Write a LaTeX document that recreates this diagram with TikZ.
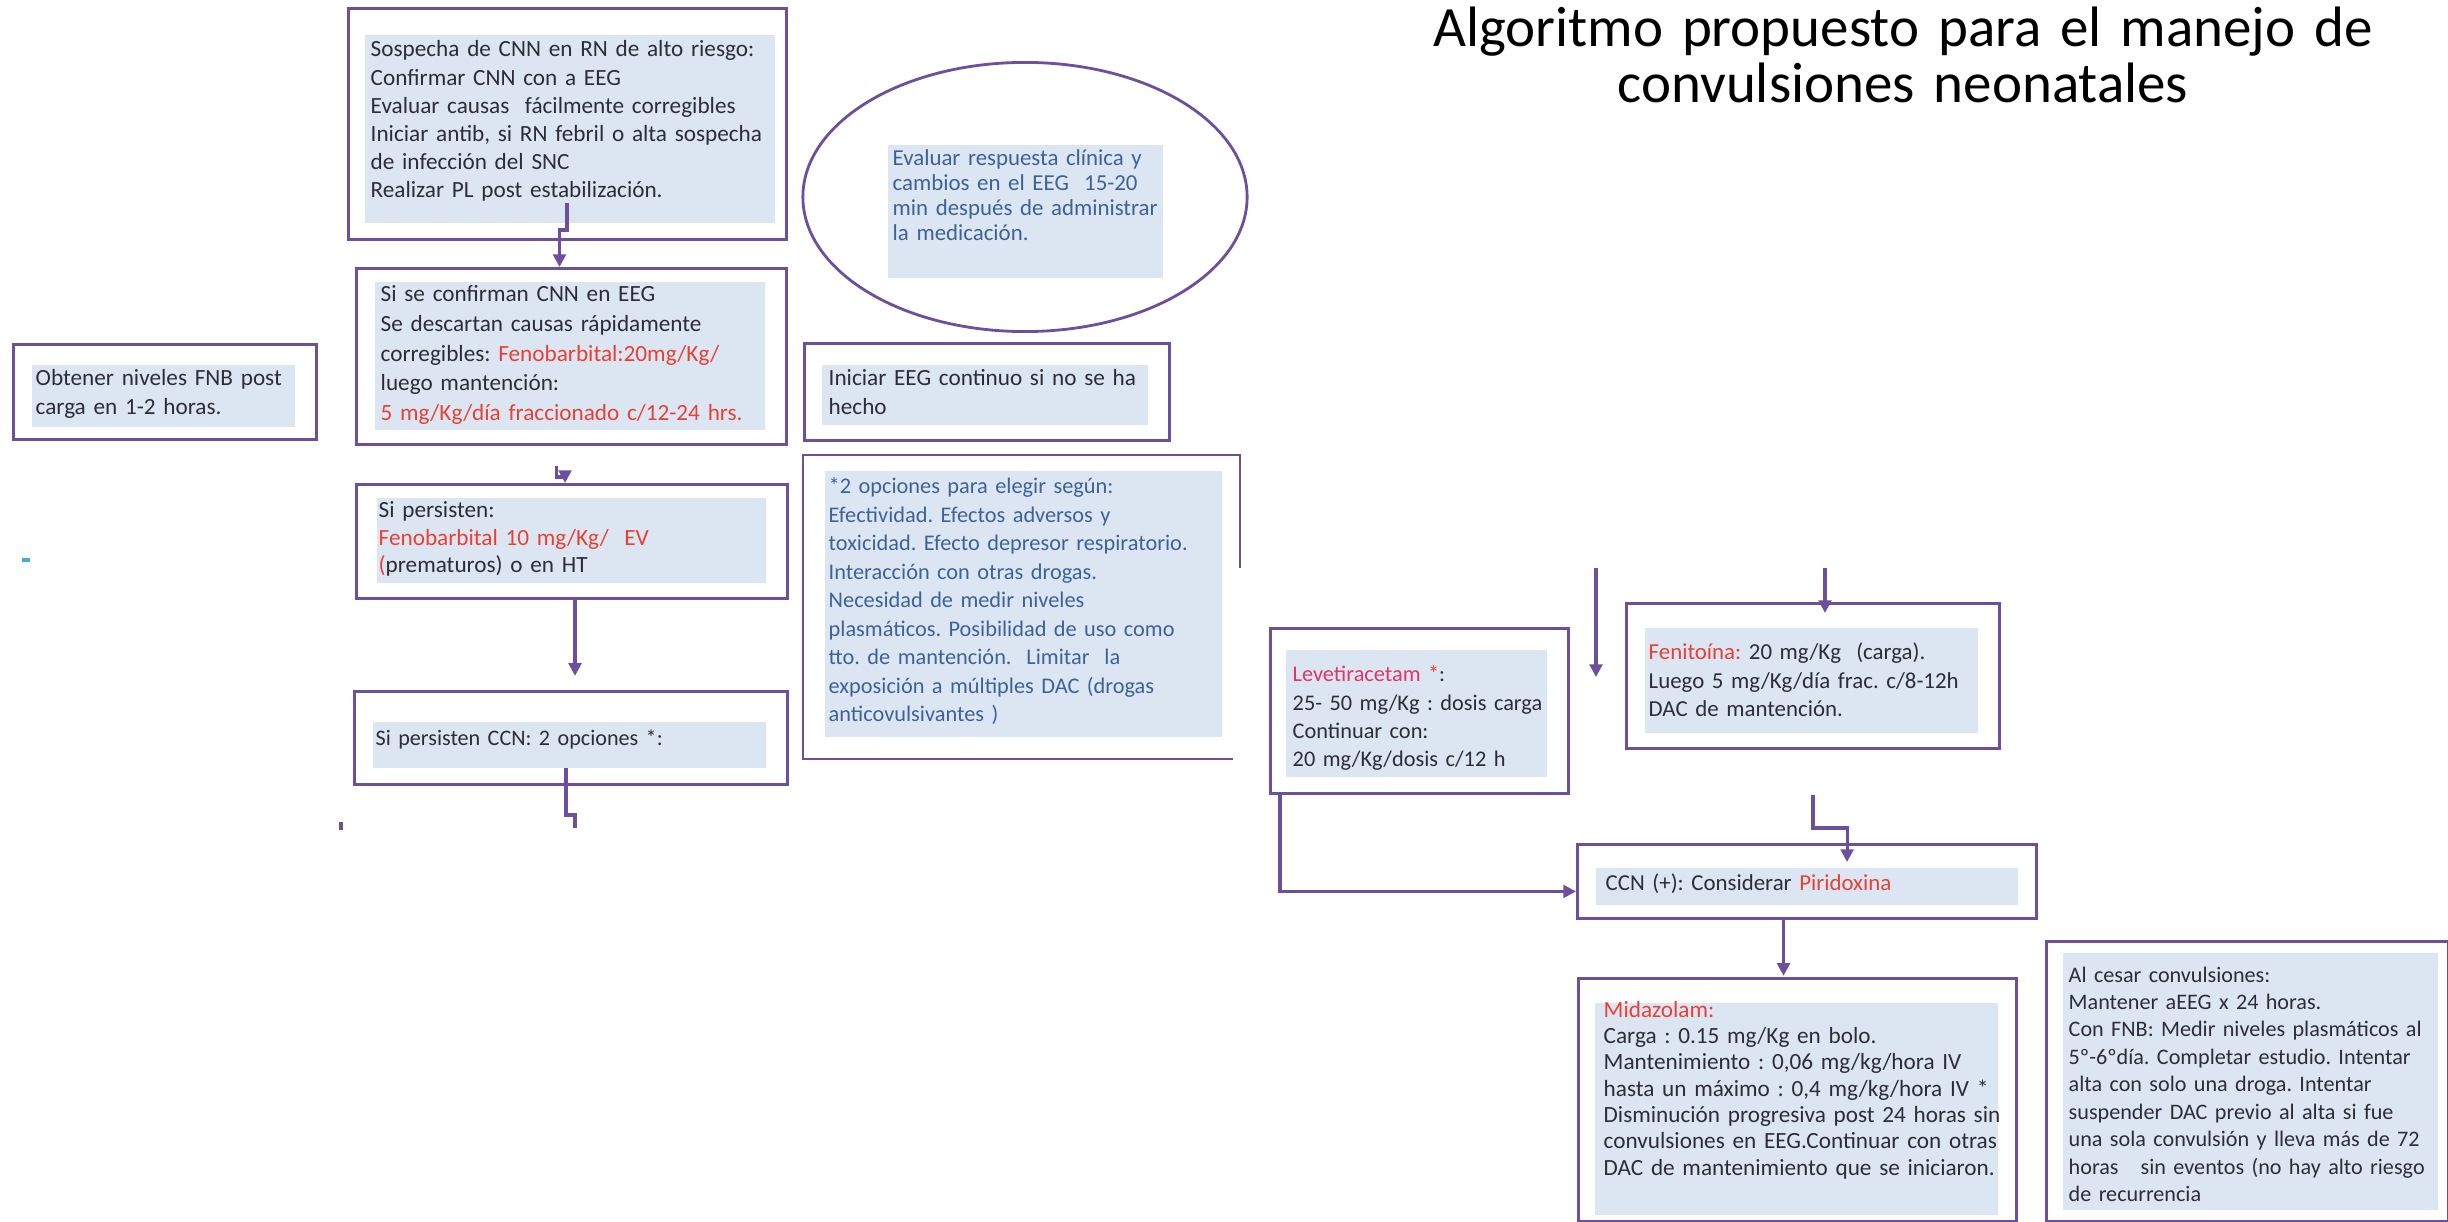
\documentclass[tikz,border=0pt]{standalone}
\usepackage{fontspec}
\setmainfont{Carlito}
\usepackage{xcolor}
\usepackage{tikz}
\usetikzlibrary{shapes.geometric, arrows.meta}
\frenchspacing

\begin{document}
\begin{tikzpicture}[x=0.01cm, y=-0.01cm,
  caja/.style={draw=morado, line width=0.8pt, rectangle, anchor=north west, inner sep=0pt},
  texto/.style={anchor=base west, inner sep=0pt, align=left, text width=4.6cm, text=oscuro, font=\fontsize{6.6}{8}\selectfont},
  flecha/.style={draw=morado, line width=0.9pt, -{Triangle[length=3.6pt, width=3.6pt]}},
  linea/.style={draw=morado, line width=0.9pt}]
  \definecolor{morado}{RGB}{108,80,158}
  \definecolor{celeste}{RGB}{220,230,242}
  \definecolor{oscuro}{RGB}{45,45,55}
  \definecolor{rojo}{RGB}{232,64,52}
  \definecolor{rosa}{RGB}{226,52,104}
  \definecolor{azulTexto}{RGB}{62,98,150}
  \definecolor{cian}{RGB}{70,170,220}

  \useasboundingbox (0,0) rectangle (2448,1222);

  % fondos celestes
  \fill[celeste] (365,35) rectangle (775,223);
  \fill[celeste] (375,282) rectangle (765,430);
  \fill[celeste] (32,365) rectangle (295,427);
  \fill[celeste] (377,498) rectangle (766,583);
  \fill[celeste] (373,722) rectangle (766,768);
  \fill[celeste] (888,145) rectangle (1163,278);
  \fill[celeste] (822,365) rectangle (1148,425);
  \fill[celeste] (825,471) rectangle (1222,737);
  \fill[celeste] (1286,650) rectangle (1547,777);
  \fill[celeste] (1645,628) rectangle (1978,733);
  \fill[celeste] (1596,868) rectangle (2018,905);
  \fill[celeste] (1595,1003) rectangle (1998,1215);
  \fill[celeste] (2063,953) rectangle (2438,1210);

  % cajas
  \node[caja, minimum width=4.38cm, minimum height=2.31cm] (sospecha) at (347,7) {};
  \node[caja, minimum width=4.30cm, minimum height=1.76cm] (confirman) at (355,267) {};
  \node[caja, minimum width=3.03cm, minimum height=0.95cm] (niveles) at (12,343) {};
  \node[caja, minimum width=4.31cm, minimum height=1.14cm] (persisten) at (355,483) {};
  \node[caja, minimum width=4.33cm, minimum height=0.93cm] (opciones) at (353,690) {};
  \node[draw=morado, line width=0.8pt, ellipse, minimum width=4.44cm, minimum height=2.69cm, inner sep=0pt] (evaluar) at (1025,197) {};
  \node[caja, minimum width=3.65cm, minimum height=0.97cm] (iniciar) at (803,342) {};
  \node[caja, draw=none, minimum width=4.34cm, minimum height=3.01cm] (criterios) at (803,455) {};
  \draw[linea, line width=0.8pt] ([xshift=-0.07cm]criterios.south east) -- (criterios.south west)
    -- (criterios.north west) -- (criterios.north east) -- ++(0,113);
  \node[caja, minimum width=2.98cm, minimum height=1.65cm] (leve) at (1269,627) {};
  \node[caja, minimum width=3.73cm, minimum height=1.45cm] (feni) at (1625,602) {};
  \node[caja, minimum width=4.59cm, minimum height=0.74cm] (ccn) at (1576,843) {};
  \node[caja, minimum width=4.38cm, minimum height=2.43cm] (mida) at (1577,977) {};
  \node[caja, minimum width=4.02cm, minimum height=2.80cm] (cesar) at (2045,940) {};

  % titulo
  \node[anchor=base, inner sep=0pt, align=center, text width=12cm,
    font=\fontsize{16.2}{15.9}\selectfont] (titulo) at (1903,47)
    {\lineskiplimit=-20pt\relax Algoritmo propuesto para el manejo de\\convulsiones neonatales};

  % textos
  \node[texto] (sospechaTxt) at (370,57) {Sospecha de CNN en RN de alto riesgo:\\
    Confirmar CNN con a EEG\\
    Evaluar causas\ \ fácilmente corregibles\\
    Iniciar antib, si RN febril o alta sospecha\\
    de infección del SNC\\
    Realizar PL post estabilización.};
  \node[texto, font=\fontsize{6.6}{8.4}\selectfont] (confirmanTxt) at (380,302) {Si se confirman CNN en EEG\\
    \makebox[3.78cm][s]{Se descartan causas rápidamente}\\
    \makebox[3.78cm][s]{corregibles: \textcolor{rojo}{Fenobarbital:20mg/Kg/}}\\
    luego mantención:\\
    \textcolor{rojo}{5 mg/Kg/día fraccionado c/12-24 hrs.}};
  \node[texto] (nivelesTxt) at (35,386) {Obtener niveles FNB post\\carga en 1-2 horas.};
  \node[texto, font=\fontsize{6.6}{7.7}\selectfont] (persistenTxt) at (378,518) {Si persisten:\\
    \textcolor{rojo}{Fenobarbital 10 mg/Kg/\ \ EV}\\
    \textcolor{rojo}{(}prematuros) o en HT};
  \node[texto, font=\fontsize{6.3}{8}\selectfont] (opcionesTxt) at (375,745) {Si persisten CCN: 2 opciones *:};
  \node[texto, text=azulTexto, font=\fontsize{6.5}{7.1}\selectfont] (evaluarTxt) at (892,166) {\makebox[2.61cm][s]{Evaluar respuesta clínica y}\\
    cambios en el EEG\ \ 15-20\\
    min después de administrar\\
    la medicación.};
  \node[texto] (iniciarTxt) at (828,386) {Iniciar EEG continuo si no se ha\\hecho};
  \node[texto, text=azulTexto, font=\fontsize{6.35}{8.1}\selectfont] (criteriosTxt) at (828,494) {*2 opciones para elegir según:\\
    Efectividad. Efectos adversos y\\
    toxicidad. Efecto depresor respiratorio.\\
    Interacción con otras drogas.\\
    Necesidad de medir niveles\\
    plasmáticos. Posibilidad de uso como\\
    tto. de mantención.\ \ Limitar\ \ la\\
    exposición a múltiples DAC (drogas\\
    anticovulsivantes )};
  \node[texto, font=\fontsize{6.35}{8}\selectfont] (leveTxt) at (1292,682) {\textcolor{rosa}{Levetiracetam} \textcolor{rojo}{*}:\\
    25- 50 mg/Kg : dosis carga\\
    Continuar con:\\
    20 mg/Kg/dosis c/12 h};
  \node[texto, font=\fontsize{6.5}{8.1}\selectfont] (feniTxt) at (1648,660) {\textcolor{rojo}{Fenitoína:} 20 mg/Kg\ \ (carga).\\
    Luego 5 mg/Kg/día frac. c/8-12h\\
    DAC de mantención.};
  \node[texto, font=\fontsize{6.5}{8}\selectfont] (ccnTxt) at (1605,890) {CCN (+): Considerar \textcolor{rojo}{Piridoxina}};
  \node[texto, font=\fontsize{6.6}{7.5}\selectfont] (midaTxt) at (1603,1017) {\textcolor{rojo}{Midazolam:}\\
    Carga : 0.15 mg/Kg en bolo.\\
    Mantenimiento : 0,06 mg/kg/hora IV\\
    hasta un máximo : 0,4 mg/kg/hora IV *\\
    Disminución progresiva post 24 horas sin\\
    convulsiones en EEG.Continuar con otras\\
    DAC de mantenimiento que se iniciaron.};
  \node[texto, font=\fontsize{6.3}{7.8}\selectfont] (cesarTxt) at (2068,982) {Al cesar convulsiones:\\
    Mantener aEEG x 24 horas.\\
    Con FNB: Medir niveles plasmáticos al\\
    5º-6ºdía. Completar estudio. Intentar\\
    alta con solo una droga. Intentar\\
    suspender DAC previo al alta si fue\\
    una sola convulsión y lleva más de 72\\
    horas\ \ \ sin eventos (no hay alto riesgo\\
    de recurrencia};

  % conectores
  \coordinate (salidaSospecha) at (567,203);
  \coordinate (salidaOpciones) at (566,768);
  \coordinate (corteIzq) at (1596,568);
  \coordinate (corteDer) at (1825,568);
  \coordinate (salidaFeni) at (1813,795);
  \draw[flecha] (salidaSospecha) -- ++(0,27) -| ([xshift=-0.12cm]confirman.north);
  \draw[flecha] ([xshift=-0.15cm,yshift=-0.2cm]confirman.south) -- ++(0,11) -| ([xshift=-0.07cm]persisten.north);
  \draw[flecha] ([xshift=0.03cm]persisten.south) -- ++(0,76);
  \draw[linea] (salidaOpciones) -- ++(0,47) -- ++(9,0) -- ++(0,13);
  \draw[flecha] (corteIzq) -- ++(0,109);
  \draw[flecha] (corteDer) -- ++(0,45);
  \draw[flecha] (salidaFeni) -- ++(0,33) -| ([xshift=0.4cm,yshift=-0.19cm]ccn.north);
  \draw[flecha] ([xshift=0.11cm]leve.south west) |- ([yshift=-0.1cm]ccn.west);
  \draw[flecha] ([xshift=-0.235cm]ccn.south) -- ++(0,56);

  % marcas sueltas
  \draw[linea] (341,822) -- (341,830);
  \draw[cian, line width=1.2pt] (22,560) -- (30,560);
\end{tikzpicture}
\end{document}
